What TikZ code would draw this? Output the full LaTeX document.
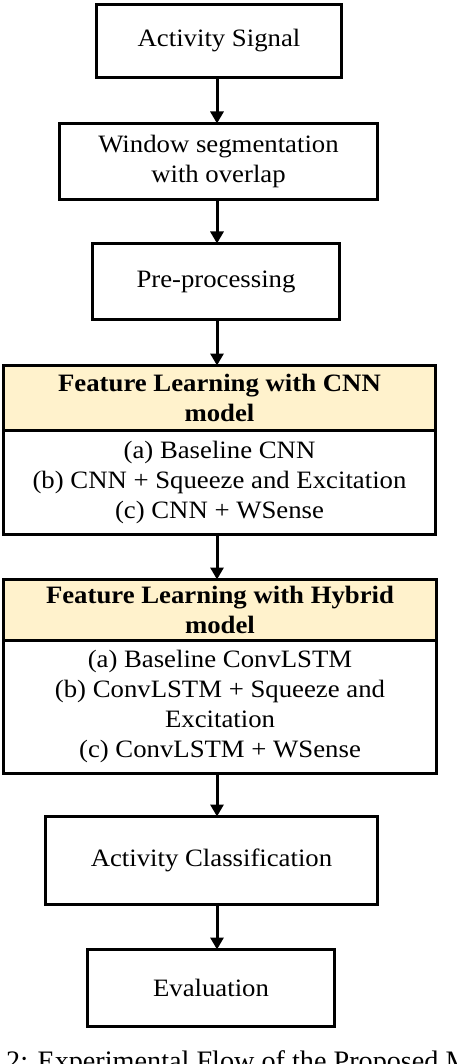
\documentclass[tikz,border=0pt]{standalone}
\usepackage{fontspec}
\setmainfont[FakeStretch=1.07]{Liberation Serif}
\newfontfamily\capfont{Liberation Serif}
\usetikzlibrary{arrows.meta}
\definecolor{hdr}{HTML}{FFF2CC}
\begin{document}
\begin{tikzpicture}[x=1pt,y=-1pt,
  box/.style={draw,line width=3pt,align=center,inner sep=0pt,outer sep=0pt,
    font=\fontsize{25}{30}\selectfont},
  hdrbox/.style={box,fill=hdr,font=\fontsize{25}{30}\selectfont\bfseries},
  flow/.style={line width=3pt,-{Triangle[width=13pt,length=12pt]}}]
\useasboundingbox (0,0) rectangle (456,1064);
\clip (0,0) rectangle (456,1064);
\coordinate (ax) at (217,0);
\node[box,minimum width=245pt,minimum height=73pt] (b1) at (219,41) {Activity Signal};
\node[box,minimum width=318pt,minimum height=76pt] (b2) at (218.5,161.5) {Window segmentation\\with overlap};
\node[box,minimum width=247pt,minimum height=76pt] (b3) at (216,281.5) {Pre-processing};
\node[hdrbox,minimum width=432pt,minimum height=64.5pt] (h4) at (219.5,397.75) {Feature Learning with CNN\\model};
\node[box,minimum width=432pt,minimum height=104.5pt] (c4) at (219.5,482.25) {(a) Baseline CNN\\(b) CNN + Squeeze and Excitation\\(c) CNN + WSense};
\node[hdrbox,minimum width=433pt,minimum height=60.5pt] (h5) at (220,609.75) {Feature Learning with Hybrid\\model};
\node[box,minimum width=433pt,minimum height=133.5pt] (c5) at (220,706.75) {(a) Baseline ConvLSTM\\(b) ConvLSTM + Squeeze and\\Excitation\\(c) ConvLSTM + WSense};
\node[box,minimum width=332pt,minimum height=88pt] (b6) at (211.5,860.5) {Activity Classification};
\node[box,minimum width=247pt,minimum height=77pt] (b7) at (211,988) {Evaluation};
\node[anchor=base west,inner sep=0pt,font=\capfont\fontsize{28.2}{30}\selectfont] (cap) at (6,1070.6) {2: Experimental Flow of the Proposed Model};
\draw[flow] (b1.south -| ax) -- (b2.north -| ax);
\draw[flow] (b2.south -| ax) -- (b3.north -| ax);
\draw[flow] (b3.south -| ax) -- (h4.north -| ax);
\draw[flow] (c4.south -| ax) -- (h5.north -| ax);
\draw[flow] (c5.south -| ax) -- (b6.north -| ax);
\draw[flow] (b6.south -| ax) -- (b7.north -| ax);
\end{tikzpicture}
\end{document}
